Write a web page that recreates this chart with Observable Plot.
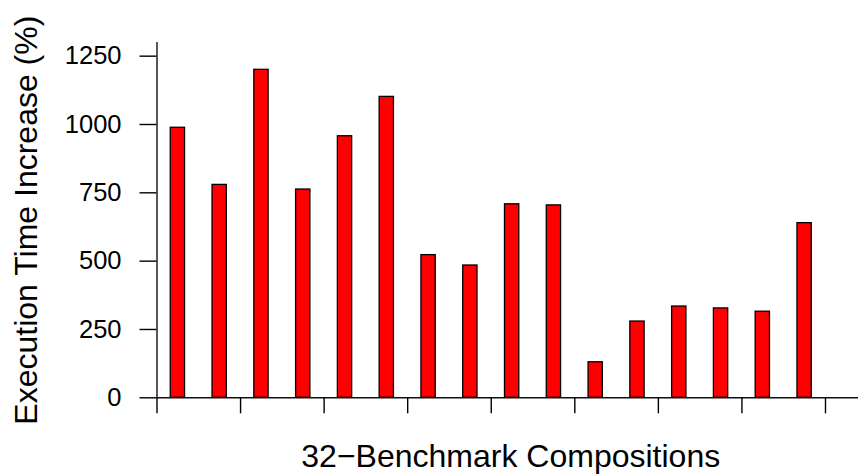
<!DOCTYPE html>
<html>
<head>
<meta charset="utf-8">
<script src="https://cdn.jsdelivr.net/npm/d3@7"></script>
<script src="https://cdn.jsdelivr.net/npm/@observablehq/plot@0.6"></script>
<style>
  html, body { margin: 0; padding: 0; background: #fff; }
  #chart svg { display: block; }
</style>
</head>
<body>
<div id="chart"></div>
<script>
// Execution time increase (%) for each 32-benchmark composition
const compositions = [1, 2, 3, 4, 5, 6, 7, 8, 9, 10, 11, 12, 13, 14, 15, 16];
const increase = [988, 779, 1200, 762, 957, 1101, 522, 484, 708, 704, 130, 279, 334, 327, 315, 639];
const yTicks = [0, 250, 500, 750, 1000, 1250];
const xTicks = [0, 2, 4, 6, 8, 10, 12, 14, 16];

const yLabel = "Execution Time Increase (%)";
const xLabel = "32\u2212Benchmark Compositions";

const data = compositions.map((c, i) => ({slot: i, value: increase[i]}));
const half = 0.171; // half bar width, in slot units

const chart = Plot.plot({
  width: 858,
  height: 474,
  marginLeft: 156.5,
  marginRight: 0,
  marginTop: 42,
  marginBottom: 76.7,
  style: {
    fontFamily: "'Liberation Sans', Arial, Helvetica, sans-serif",
    fontSize: "25.5px",
    color: "#000",
    background: "#fff"
  },
  x: {domain: [0, 16], range: [156.5, 825]},
  y: {domain: [0, 1300]},
  marks: [
    Plot.rectY(data, {
      x1: d => d.slot + 0.5 - half,
      x2: d => d.slot + 0.5 + half,
      y: "value",
      fill: "#ff0000",
      stroke: "#000",
      strokeWidth: 1.3
    }),
    Plot.ruleY([0], {stroke: "#111", strokeWidth: 1.4}),
    Plot.ruleX([0], {stroke: "#111", strokeWidth: 1.4}),
    Plot.axisY({
      ticks: yTicks,
      tickSize: 17,
      tickPadding: 18.5,
      tickFormat: d => String(d),
      strokeWidth: 1.4,
      label: null
    }),
    Plot.axisX({
      ticks: xTicks,
      tickSize: 16,
      tickFormat: () => "",
      strokeWidth: 1.4,
      label: null
    }),
    Plot.text([xLabel], {
      frameAnchor: "bottom",
      lineAnchor: "bottom",
      dx: 3,
      dy: 68.7,
      fontSize: 32,
      fill: "#000"
    }),
    Plot.text([yLabel], {
      frameAnchor: "left",
      textAnchor: "middle",
      lineAnchor: "bottom",
      rotate: -90,
      dx: -120.5,
      fontSize: 32,
      fill: "#000"
    })
  ]
});

document.getElementById("chart").appendChild(chart);
</script>
</body>
</html>
